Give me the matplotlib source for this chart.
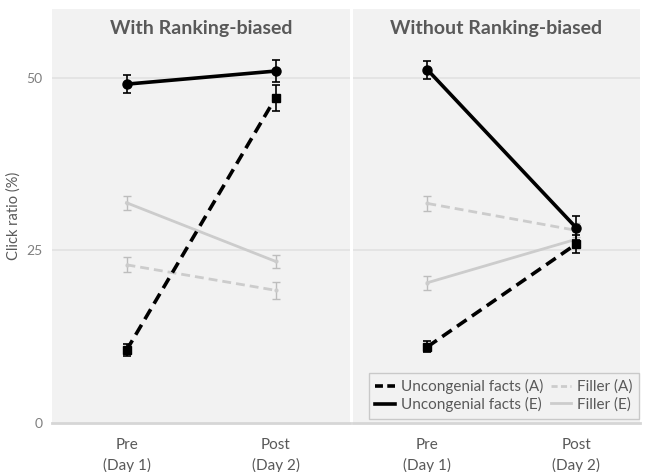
import matplotlib
matplotlib.use("Agg")
import matplotlib.pyplot as plt
from matplotlib.lines import Line2D

plt.rcParams["font.family"] = ["Lato", "DejaVu Sans"]

# Data: click ratio (%) at each phase, with standard errors
phases = ["Pre\n(Day 1)", "Post\n(Day 2)"]
panel_titles = ["With Ranking-biased", "Without Ranking-biased"]
y_ticks = [0, 25, 50]

unc_a_with = [10.5, 47.1]
unc_a_with_err = [0.85, 1.9]
unc_e_with = [49.1, 51.0]
unc_e_with_err = [1.3, 1.6]
fil_a_with = [22.9, 19.2]
fil_a_with_err = [1.1, 1.2]
fil_e_with = [31.9, 23.4]
fil_e_with_err = [1.0, 0.95]

unc_a_without = [11.0, 25.9]
unc_a_without_err = [0.8, 1.3]
unc_e_without = [51.2, 28.3]
unc_e_without_err = [1.3, 1.75]
fil_a_without = [31.8, 27.9]
fil_a_without_err = [1.05, 1.0]
fil_e_without = [20.3, 26.6]
fil_e_without_err = [1.0, 1.0]

BG = "#f2f2f2"
GRID = "#e2e2e2"
TEXT = "#595959"
FILL_LINE = "#cccccc"
FILL_ERR = "#bdbdbd"

W, H = 645, 472
fig = plt.figure(figsize=(W / 100, H / 100), dpi=100)
fig.patch.set_facecolor("white")

bottom = (H - 422.7) / H
height = 413.7 / H
ax_l = fig.add_axes([52 / W, bottom, 298 / W, height])
ax_r = fig.add_axes([353 / W, bottom, 287 / W, height])

x = [1, 2]
DASH = (3.2, 1.8)


def draw_panel(ax, title, ua, ua_e, ue, ue_e, fa, fa_e, fe, fe_e, xmax):
    ax.set_facecolor(BG)
    for s in ax.spines.values():
        s.set_visible(False)
    ax.set_xlim(0.5, xmax)
    ax.set_ylim(0, 60)
    for yv in (25, 50):
        ax.axhline(yv, color=GRID, lw=1.2, zorder=0)
    ax.axhline(0, color="#d6d6d6", lw=2.0, zorder=0, clip_on=False)

    # filler series (light gray)
    ax.errorbar(x, fa, yerr=fa_e, color=FILL_LINE, lw=2.0, ls=(0, DASH),
                ecolor=FILL_ERR, elinewidth=1.0, capsize=3, capthick=1.0,
                marker="o", markersize=2, zorder=2)
    ax.errorbar(x, fe, yerr=fe_e, color=FILL_LINE, lw=2.0, ls="-",
                ecolor=FILL_ERR, elinewidth=1.0, capsize=3, capthick=1.0,
                marker="o", markersize=2, zorder=2)
    # uncongenial facts (black)
    ax.errorbar(x, ua, yerr=ua_e, color="black", lw=2.6, ls=(0, DASH),
                ecolor="black", elinewidth=1.2, capsize=3, capthick=1.2,
                marker="s", markersize=6, zorder=3)
    ax.errorbar(x, ue, yerr=ue_e, color="black", lw=2.6, ls="-",
                ecolor="black", elinewidth=1.2, capsize=3, capthick=1.2,
                marker="o", markersize=6.5, zorder=3)

    ax.set_xticks(x)
    ax.set_xticklabels(phases, color=TEXT, fontsize=11, linespacing=1.5)
    ax.tick_params(axis="x", length=0, pad=11)
    ax.text(0.5, 0.954, title, transform=ax.transAxes, ha="center",
            va="center", fontsize=14, fontweight="bold", color=TEXT)


draw_panel(ax_l, panel_titles[0], unc_a_with, unc_a_with_err, unc_e_with,
           unc_e_with_err, fil_a_with, fil_a_with_err, fil_e_with,
           fil_e_with_err, 2.5)
draw_panel(ax_r, panel_titles[1], unc_a_without, unc_a_without_err,
           unc_e_without, unc_e_without_err, fil_a_without,
           fil_a_without_err, fil_e_without, fil_e_without_err, 2.43)

ax_l.set_yticks(y_ticks)
ax_l.set_yticklabels([str(v) for v in y_ticks], color="#7f7f7f", fontsize=10)
ax_l.tick_params(axis="y", length=0, pad=7)
ax_r.set_yticks([])
ax_l.set_ylabel("Click ratio (%)", color=TEXT, fontsize=10.5)
ax_l.yaxis.set_label_coords(-0.105, 0.5)

handles = [
    Line2D([], [], color="black", lw=2.6, ls=(0, (2.2, 1.2))),
    Line2D([], [], color="black", lw=2.6, ls="-"),
    Line2D([], [], color=FILL_LINE, lw=2.0, ls=(0, (2.2, 1.2))),
    Line2D([], [], color=FILL_LINE, lw=2.0, ls="-"),
]
labels = ["Uncongenial facts (A)", "Uncongenial facts (E)",
          "Filler (A)", "Filler (E)"]
leg = ax_r.legend(handles, labels, ncol=2, loc="lower right",
                  bbox_to_anchor=(0.995, 0.01), borderaxespad=0,
                  fontsize=11, frameon=True, fancybox=False,
                  handlelength=1.3, handletextpad=0.4, columnspacing=0.5,
                  labelspacing=0.22, borderpad=0.4, labelcolor=TEXT)
leg.get_frame().set_facecolor(BG)
leg.get_frame().set_edgecolor("#bfbfbf")
leg.get_frame().set_linewidth(1.0)

fig.savefig("out.png", dpi=100, facecolor="white")
